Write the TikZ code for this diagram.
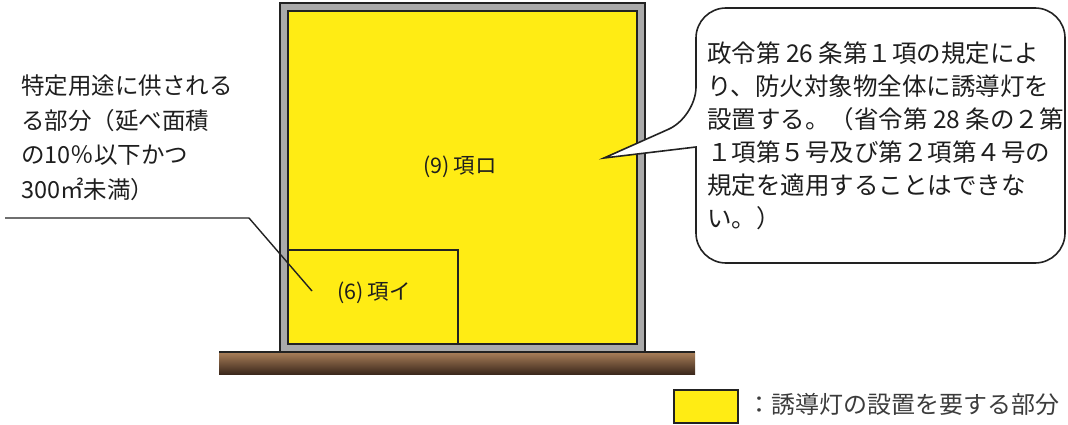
\documentclass[tikz,border=0pt]{standalone}
\usepackage{fontspec}
\setmainfont{Noto Sans CJK JP}
\definecolor{ylw}{RGB}{255,236,20}
\definecolor{wallgray}{RGB}{170,170,170}
\definecolor{edge}{RGB}{34,34,34}
\definecolor{groundtop}{RGB}{170,128,90}
\definecolor{groundbot}{RGB}{60,40,28}
\definecolor{txt}{RGB}{30,30,30}
\tikzset{
  wall/.style={fill=wallgray,draw=edge,line width=1.6pt},
  room/.style={fill=ylw,draw=edge,line width=1.6pt},
  lbl/.style={inner sep=0pt,text=txt,font=\fontsize{23.5}{34.5}\selectfont,align=left},
  roomlbl/.style={inner sep=0pt,text=txt,font=\fontsize{21.5}{25}\selectfont},
  leader/.style={draw=edge,line width=1.4pt},
  bubble/.style={fill=white,draw=edge,line width=1.6pt},
}
\begin{document}
\begin{tikzpicture}[x=1pt,y=-1pt]
\useasboundingbox (0,0) rectangle (1068,425);
% ground
\shade[top color=groundtop,bottom color=groundbot] (219,352) rectangle (695,374);
\draw[edge,line width=1.6pt] (219,352) -- (695,352);
% building
\draw[wall] (280,3) rectangle (645,352);
\draw[room] (288,11) rectangle (637,344);
\draw[room] (288,250) rectangle (458,344);
\node[roomlbl] (r9) at (460,167) {(9)\,項ロ};
\node[roomlbl] (r6) at (374,293) {(6)\,項イ};
% left label
\node[lbl,anchor=north west] (leftlbl) at (21,75) {特定用途に供される\\る部分（延べ面積\\の10％以下かつ\\300㎡未満）};
\coordinate (l0) at (5,218);
\coordinate (l1) at (249,218);
\coordinate (l2) at (312,291);
\draw[leader] (l0) -- (l1) -- (l2);
% callout
\coordinate (tip) at (604,158);
\draw[bubble] (696,147) [rounded corners=30pt] -- (696,263) -- (1065,263) -- (1065,8) -- (696,8) -- (696,117) [sharp corners] -- (tip) -- cycle;
\node[lbl,anchor=north west,font=\fontsize{24.5}{33}\selectfont] (callout) at (707,42) {政令第 26 条第１項の規定によ\\り、防火対象物全体に誘導灯を\\設置する。（省令第 28 条の２第\\１項第５号及び第２項第４号の\\規定を適用することはできな\\い。）};
% legend
\draw[room] (674,390) rectangle (738,423);
\node[lbl,anchor=west,font=\fontsize{24}{28}\selectfont,text={rgb,255:red,60;green,60;blue,60}] (legend) at (747,404) {：誘導灯の設置を要する部分};
\end{tikzpicture}
\end{document}
